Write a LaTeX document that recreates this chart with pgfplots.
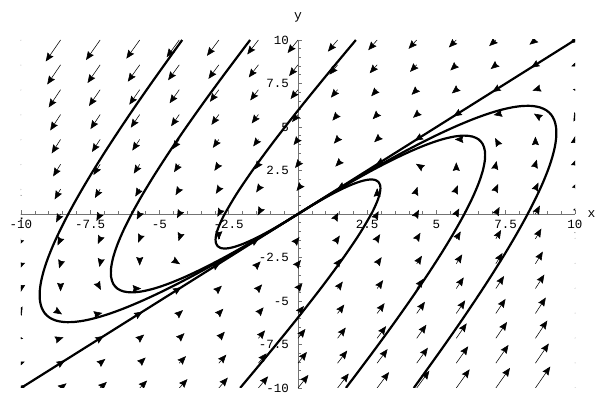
\documentclass[border=0pt]{standalone}
\usepackage{fontspec}
\setmonofont{Liberation Mono}
\usepackage{pgfplots}
\usepackage{pgfplotstable}
\pgfplotsset{compat=1.18}
\usetikzlibrary{arrows.meta}

% direction field of x' = x - 2y, y' = 3x - 4y on a 15x15 grid
% (u, v in units of one grid step)
\pgfplotstableread{
x y u v
-10 -10 7 7
-8.571 -10 8 10
-7.143 -10 9 13
-5.714 -10 10 16
-4.286 -10 11 19
-2.857 -10 12 22
-1.429 -10 13 25
0 -10 14 28
1.429 -10 15 31
2.857 -10 16 34
4.286 -10 17 37
5.714 -10 18 40
7.143 -10 19 43
8.571 -10 20 46
10 -10 21 49
-10 -8.571 5 3
-8.571 -8.571 6 6
-7.143 -8.571 7 9
-5.714 -8.571 8 12
-4.286 -8.571 9 15
-2.857 -8.571 10 18
-1.429 -8.571 11 21
0 -8.571 12 24
1.429 -8.571 13 27
2.857 -8.571 14 30
4.286 -8.571 15 33
5.714 -8.571 16 36
7.143 -8.571 17 39
8.571 -8.571 18 42
10 -8.571 19 45
-10 -7.143 3 -1
-8.571 -7.143 4 2
-7.143 -7.143 5 5
-5.714 -7.143 6 8
-4.286 -7.143 7 11
-2.857 -7.143 8 14
-1.429 -7.143 9 17
0 -7.143 10 20
1.429 -7.143 11 23
2.857 -7.143 12 26
4.286 -7.143 13 29
5.714 -7.143 14 32
7.143 -7.143 15 35
8.571 -7.143 16 38
10 -7.143 17 41
-10 -5.714 1 -5
-8.571 -5.714 2 -2
-7.143 -5.714 3 1
-5.714 -5.714 4 4
-4.286 -5.714 5 7
-2.857 -5.714 6 10
-1.429 -5.714 7 13
0 -5.714 8 16
1.429 -5.714 9 19
2.857 -5.714 10 22
4.286 -5.714 11 25
5.714 -5.714 12 28
7.143 -5.714 13 31
8.571 -5.714 14 34
10 -5.714 15 37
-10 -4.286 -1 -9
-8.571 -4.286 0 -6
-7.143 -4.286 1 -3
-5.714 -4.286 2 0
-4.286 -4.286 3 3
-2.857 -4.286 4 6
-1.429 -4.286 5 9
0 -4.286 6 12
1.429 -4.286 7 15
2.857 -4.286 8 18
4.286 -4.286 9 21
5.714 -4.286 10 24
7.143 -4.286 11 27
8.571 -4.286 12 30
10 -4.286 13 33
-10 -2.857 -3 -13
-8.571 -2.857 -2 -10
-7.143 -2.857 -1 -7
-5.714 -2.857 0 -4
-4.286 -2.857 1 -1
-2.857 -2.857 2 2
-1.429 -2.857 3 5
0 -2.857 4 8
1.429 -2.857 5 11
2.857 -2.857 6 14
4.286 -2.857 7 17
5.714 -2.857 8 20
7.143 -2.857 9 23
8.571 -2.857 10 26
10 -2.857 11 29
-10 -1.429 -5 -17
-8.571 -1.429 -4 -14
-7.143 -1.429 -3 -11
-5.714 -1.429 -2 -8
-4.286 -1.429 -1 -5
-2.857 -1.429 0 -2
-1.429 -1.429 1 1
0 -1.429 2 4
1.429 -1.429 3 7
2.857 -1.429 4 10
4.286 -1.429 5 13
5.714 -1.429 6 16
7.143 -1.429 7 19
8.571 -1.429 8 22
10 -1.429 9 25
-10 0 -7 -21
-8.571 0 -6 -18
-7.143 0 -5 -15
-5.714 0 -4 -12
-4.286 0 -3 -9
-2.857 0 -2 -6
-1.429 0 -1 -3
1.429 0 1 3
2.857 0 2 6
4.286 0 3 9
5.714 0 4 12
7.143 0 5 15
8.571 0 6 18
10 0 7 21
-10 1.429 -9 -25
-8.571 1.429 -8 -22
-7.143 1.429 -7 -19
-5.714 1.429 -6 -16
-4.286 1.429 -5 -13
-2.857 1.429 -4 -10
-1.429 1.429 -3 -7
0 1.429 -2 -4
1.429 1.429 -1 -1
2.857 1.429 0 2
4.286 1.429 1 5
5.714 1.429 2 8
7.143 1.429 3 11
8.571 1.429 4 14
10 1.429 5 17
-10 2.857 -11 -29
-8.571 2.857 -10 -26
-7.143 2.857 -9 -23
-5.714 2.857 -8 -20
-4.286 2.857 -7 -17
-2.857 2.857 -6 -14
-1.429 2.857 -5 -11
0 2.857 -4 -8
1.429 2.857 -3 -5
2.857 2.857 -2 -2
4.286 2.857 -1 1
5.714 2.857 0 4
7.143 2.857 1 7
8.571 2.857 2 10
10 2.857 3 13
-10 4.286 -13 -33
-8.571 4.286 -12 -30
-7.143 4.286 -11 -27
-5.714 4.286 -10 -24
-4.286 4.286 -9 -21
-2.857 4.286 -8 -18
-1.429 4.286 -7 -15
0 4.286 -6 -12
1.429 4.286 -5 -9
2.857 4.286 -4 -6
4.286 4.286 -3 -3
5.714 4.286 -2 0
7.143 4.286 -1 3
8.571 4.286 0 6
10 4.286 1 9
-10 5.714 -15 -37
-8.571 5.714 -14 -34
-7.143 5.714 -13 -31
-5.714 5.714 -12 -28
-4.286 5.714 -11 -25
-2.857 5.714 -10 -22
-1.429 5.714 -9 -19
0 5.714 -8 -16
1.429 5.714 -7 -13
2.857 5.714 -6 -10
4.286 5.714 -5 -7
5.714 5.714 -4 -4
7.143 5.714 -3 -1
8.571 5.714 -2 2
10 5.714 -1 5
-10 7.143 -17 -41
-8.571 7.143 -16 -38
-7.143 7.143 -15 -35
-5.714 7.143 -14 -32
-4.286 7.143 -13 -29
-2.857 7.143 -12 -26
-1.429 7.143 -11 -23
0 7.143 -10 -20
1.429 7.143 -9 -17
2.857 7.143 -8 -14
4.286 7.143 -7 -11
5.714 7.143 -6 -8
7.143 7.143 -5 -5
8.571 7.143 -4 -2
10 7.143 -3 1
-10 8.571 -19 -45
-8.571 8.571 -18 -42
-7.143 8.571 -17 -39
-5.714 8.571 -16 -36
-4.286 8.571 -15 -33
-2.857 8.571 -14 -30
-1.429 8.571 -13 -27
0 8.571 -12 -24
1.429 8.571 -11 -21
2.857 8.571 -10 -18
4.286 8.571 -9 -15
5.714 8.571 -8 -12
7.143 8.571 -7 -9
8.571 8.571 -6 -6
10 8.571 -5 -3
-10 10 -21 -49
-8.571 10 -20 -46
-7.143 10 -19 -43
-5.714 10 -18 -40
-4.286 10 -17 -37
-2.857 10 -16 -34
-1.429 10 -15 -31
0 10 -14 -28
1.429 10 -13 -25
2.857 10 -12 -22
4.286 10 -11 -19
5.714 10 -10 -16
7.143 10 -9 -13
8.571 10 -8 -10
10 10 -7 -7
}\field

\begin{document}
\begin{tikzpicture}
\path[use as bounding box] (-21pt,-7pt) rectangle (577pt,388pt);
\begin{axis}[
    at={(0,0)}, anchor=south west,
    scale only axis,
    width=554pt, height=348pt,
    xmin=-10, xmax=10, ymin=-10, ymax=10,
    clip=true,
    axis lines=middle,
    axis line style={-, black!55, line width=0.8pt},
    xtick={-10,-7.5,-5,-2.5,0,2.5,5,7.5,10},
    ytick={-10,-7.5,-5,-2.5,0,2.5,5,7.5,10},
    xticklabels={\texttt{-10},\texttt{-7.5},\texttt{-5},\texttt{-2.5},{},\texttt{2.5},\texttt{5},\texttt{7.5},\texttt{10}},
    yticklabels={\texttt{-10},\texttt{-7.5},\texttt{-5},\texttt{-2.5},{},\texttt{2.5},\texttt{5},\texttt{7.5},\texttt{10}},
    minor x tick num=4, minor y tick num=4,
    tick align=inside,
    major tick length=4pt, minor tick length=2.5pt,
    tick style={black!55, line width=0.6pt},
    ticklabel style={font=\ttfamily\fontsize{12.5}{13}\selectfont, inner sep=0pt},
    xticklabel style={anchor=north, yshift=-6pt},
    yticklabel style={anchor=east, xshift=-9pt},
    xlabel={\texttt{x}}, ylabel={\texttt{y}},
    label style={font=\ttfamily\fontsize{13}{13}\selectfont},
    xlabel style={at={(rel axis cs:1,0.5)}, anchor=west, xshift=9pt},
    ylabel style={at={(rel axis cs:0.5,1)}, anchor=south, yshift=14pt},
]
% direction field
\addplot[black, line width=0.55pt, -{Stealth[length=8.5pt,width=7pt,inset=1pt]},
    quiver={u=\thisrow{u}, v=\thisrow{v}, scale arrows=0.0268}]
    table[x=x, y=y] {\field};

% eigenline y = x
\addplot[black, line width=2.2pt] coordinates {(-10,-10) (10,10)};

% trajectories left of the eigenline
\addplot[black, line width=2.2pt, smooth, line join=round] coordinates {
(-4.18,10) (-4.557,9.165) (-5.245,7.632) (-5.88,6.18) (-6.461,4.808) (-6.989,3.517)
(-7.463,2.306) (-7.883,1.175) (-8.25,0.125) (-8.563,-0.845) (-8.823,-1.734) (-9.029,-2.543)
(-9.181,-3.272) (-9.28,-3.92) (-9.325,-4.488) (-9.317,-4.975) (-9.255,-5.382) (-9.139,-5.709)
(-8.97,-5.955) (-8.747,-6.121) (-8.471,-6.206) (-8.141,-6.211) (-7.757,-6.136) (-7.32,-5.98)
(-6.829,-5.744) (-6.285,-5.427) (-5.687,-5.03) (-5.035,-4.553) (-4.33,-3.995) (-3.571,-3.357)
(-2.759,-2.638) (-1.893,-1.839) (-0.973,-0.96) (0,0)};
\addplot[black, line width=2.2pt, smooth, line join=round] coordinates {
(-1.73,10) (-2.688,7.968) (-3.427,6.36) (-4.092,4.862) (-4.683,3.476) (-5.2,2.2)
(-5.643,1.036) (-6.012,-0.018) (-6.307,-0.961) (-6.528,-1.792) (-6.675,-2.513) (-6.748,-3.122)
(-6.747,-3.621) (-6.672,-4.008) (-6.523,-4.285) (-6.3,-4.45) (-6.003,-4.505) (-5.632,-4.448)
(-5.187,-4.281) (-4.668,-4.002) (-4.075,-3.613) (-3.408,-3.112) (-2.667,-2.501) (-1.852,-1.778)
(-0.963,-0.945) (0,0)};
\addplot[black, line width=2.2pt, smooth, line join=round] coordinates {
(2.09,10) (1.196,8.294) (0.096,6.144) (-0.836,4.246) (-1.6,2.6) (-2.196,1.206)
(-2.624,0.064) (-2.775,-0.413) (-2.884,-0.826) (-2.951,-1.177) (-2.976,-1.464) (-2.959,-1.689)
(-2.9,-1.85) (-2.799,-1.949) (-2.656,-1.984) (-2.471,-1.957) (-2.244,-1.866) (-1.975,-1.713)
(-1.664,-1.496) (-1.311,-1.217) (-0.916,-0.874) (-0.479,-0.469) (0,0)};

% trajectories right of the eigenline
\addplot[black, line width=2.2pt, smooth, line join=round] coordinates {
(4.18,-10) (4.557,-9.165) (5.245,-7.632) (5.88,-6.18) (6.461,-4.808) (6.989,-3.517)
(7.463,-2.306) (7.883,-1.175) (8.25,-0.125) (8.563,0.845) (8.823,1.734) (9.029,2.543)
(9.181,3.272) (9.28,3.92) (9.325,4.488) (9.317,4.975) (9.255,5.382) (9.139,5.709)
(8.97,5.955) (8.747,6.121) (8.471,6.206) (8.141,6.211) (7.757,6.136) (7.32,5.98)
(6.829,5.744) (6.285,5.427) (5.687,5.03) (5.035,4.553) (4.33,3.995) (3.571,3.357)
(2.759,2.638) (1.893,1.839) (0.973,0.96) (0,0)};
\addplot[black, line width=2.2pt, smooth, line join=round] coordinates {
(1.73,-10) (2.688,-7.968) (3.427,-6.36) (4.092,-4.862) (4.683,-3.476) (5.2,-2.2)
(5.643,-1.036) (6.012,0.018) (6.307,0.961) (6.528,1.792) (6.675,2.513) (6.748,3.122)
(6.747,3.621) (6.672,4.008) (6.523,4.285) (6.3,4.45) (6.003,4.505) (5.632,4.448)
(5.187,4.281) (4.668,4.002) (4.075,3.613) (3.408,3.112) (2.667,2.501) (1.852,1.778)
(0.963,0.945) (0,0)};
\addplot[black, line width=2.2pt, smooth, line join=round] coordinates {
(-2.09,-10) (-1.196,-8.294) (-0.096,-6.144) (0.836,-4.246) (1.6,-2.6) (2.196,-1.206)
(2.624,-0.064) (2.775,0.413) (2.884,0.826) (2.951,1.177) (2.976,1.464) (2.959,1.689)
(2.9,1.85) (2.799,1.949) (2.656,1.984) (2.471,1.957) (2.244,1.866) (1.975,1.713)
(1.664,1.496) (1.311,1.217) (0.916,0.874) (0.479,0.469) (0,0)};
\end{axis}
\end{tikzpicture}
\end{document}
